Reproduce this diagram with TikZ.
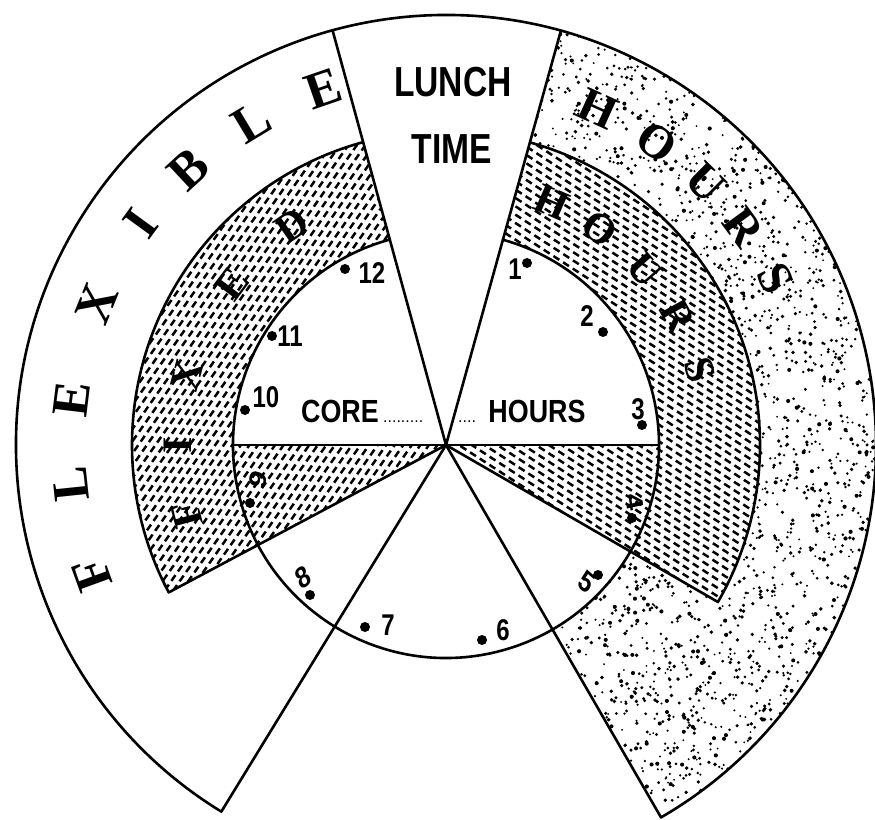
\documentclass[tikz,border=0pt]{standalone}
\usepackage{fontspec}
\setmainfont{Liberation Serif}
\newfontfamily\lsans{Liberation Sans}
\begin{document}
\begin{tikzpicture}[x=1pt,y=1pt,
  outline/.style={line width=2.6pt, line join=round, line cap=round},
  hatchline/.style={line width=2.5pt, dash pattern=on 7pt off 4.5pt},
  bigl/.style={font=\fontsize{52}{52}\selectfont\bfseries, inner sep=0pt},
  midl/.style={font=\fontsize{42}{42}\selectfont\bfseries, inner sep=0pt},
  lunchtxt/.style={font=\lsans\bfseries\fontsize{42}{42}\selectfont, xscale=0.8, inner sep=0pt},
  coretxt/.style={font=\lsans\bfseries\fontsize{32}{32}\selectfont, xscale=0.84, inner sep=0pt, anchor=base},
  leader/.style={font=\lsans\fontsize{16}{16}\selectfont, inner sep=0pt, anchor=base west},
  num/.style={font=\lsans\bfseries\fontsize{30}{30}\selectfont, xscale=0.8, inner sep=0pt},
  numdot/.style={circle, fill=black, inner sep=0pt, minimum size=10pt},
]
\fill[white] (-446,-374) rectangle (429,445);
\useasboundingbox (-446,-374) rectangle (429,445);
\coordinate (C) at (0,0);

% stippled region
\begin{scope}
\clip (-60:213) -- (-60:430) arc[start angle=-60,end angle=74.5,radius=430] -- (74.5:314) arc[start angle=74.5,end angle=-30,radius=314] -- (-30:213) arc[start angle=-30,end angle=-60,radius=213] -- cycle;
\pgfmathsetseed{4242}
\foreach \i in {1,...,2100}{
  \pgfmathsetmacro\ang{-60+135*rnd}
  \pgfmathsetmacro\rad{100*sqrt(4.5369+13.9531*rnd)}
  \pgfmathsetmacro\dr{1.0+1.1*rnd}
  \fill (\ang:\rad) circle[radius=\dr];
}
\end{scope}

% hatched left
\begin{scope}
\clip (C) -- (208:314) arc[start angle=208,end angle=105.3,radius=314] -- (105.3:213) arc[start angle=105.3,end angle=180,radius=213] -- cycle;
\begin{scope}[rotate=55]
\foreach \k in {-48,...,48}{
  \pgfmathsetmacro\ph{mod(\k*4.3+1000,11.5)}
  \draw[hatchline, dash phase=\ph pt] (-340,\k*7) -- (340,\k*7);
}
\end{scope}
\end{scope}

% hatched right
\begin{scope}
\clip (C) -- (-30:314) arc[start angle=-30,end angle=74.5,radius=314] -- (74.5:213) arc[start angle=74.5,end angle=0,radius=213] -- cycle;
\begin{scope}[rotate=-33]
\foreach \k in {-48,...,48}{
  \pgfmathsetmacro\ph{mod(\k*4.3+1000,11.5)}
  \draw[hatchline, dash phase=\ph pt] (-340,\k*7) -- (340,\k*7);
}
\end{scope}
\end{scope}

% outlines
\coordinate (outL) at (238.5:430);
\coordinate (outR) at (-60:430);
\coordinate (lunchL) at (105.3:430);
\coordinate (lunchR) at (74.5:430);
\coordinate (hL) at (208:314);
\coordinate (hR) at (-30:314);
\coordinate (h9) at (180:213);
\coordinate (h3) at (0:213);
\draw[outline] (C) -- (outL) arc[start angle=238.5,end angle=-60,radius=430] -- (C);
\draw[outline] (C) -- (lunchL);
\draw[outline] (C) -- (lunchR);
\draw[outline] (C) -- (hL) arc[start angle=208,end angle=105.3,radius=314];
\draw[outline] (C) -- (hR) arc[start angle=-30,end angle=74.5,radius=314];
\draw[outline] (h9) -- (h3);
\draw[outline] (105.3:213) arc[start angle=105.3,end angle=434.5,radius=213];

% lunch
\node[lunchtxt] (lunch) at (7,363) {LUNCH};
\node[lunchtxt] (time) at (6,296) {TIME};

% core hours
\node[coretxt] (core) at (-106,23) {CORE};
\node[leader] (dotsL) at (-63,23) {.........};
\node[leader] (dotsR) at (12,23) {....};
\node[coretxt] (hours) at (91,23) {HOURS};

% clock numbers
\node[numdot] (d12) at (-101,176) {}; \node[num] (n12) at (-74,172) {12};
\node[numdot] (d11) at (-174,109) {}; \node[num] (n11) at (-156,109) {11};
\node[numdot] (d10) at (-201,35) {};  \node[num] (n10) at (-180,48) {10};
\node[numdot] (d9) at (-196,-58) {};  \node[num, rotate=75] (n9) at (-188,-35) {9};
\node[numdot] (d8) at (-136,-150) {}; \node[num, rotate=30] (n8) at (-143,-132) {8};
\node[numdot] (d7) at (-81,-182) {};  \node[num] (n7) at (-58,-180) {7};
\node[numdot] (d6) at (36,-195) {};   \node[num] (n6) at (57,-185) {6};
\node[numdot] (d5) at (152,-130) {};  \node[num, rotate=-35] (n5) at (141,-137) {5};
\node[numdot] (d4) at (186,-73) {};   \node[num, rotate=-80] (n4) at (189,-57) {4};
\node[numdot] (d3) at (196,20) {};    \node[num] (n3) at (192,36) {3};
\node[numdot] (d2) at (157,113) {};   \node[num] (n2) at (141,129) {2};
\node[numdot] (d1) at (81,182) {};    \node[num] (n1) at (69,176) {1};

% big letters
\foreach \l/\a [count=\i] in {F/200,L/186,E/173,X/158,I/144,B/133,L/121,E/109}
  \node[bigl, rotate=\a-90] (flex\i) at (\a:377) {\l};
\foreach \l/\a [count=\i] in {H/65.6,O/55.2,U/45.3,R/36.2,S/26.8}
  \node[bigl, font=\fontsize{48}{48}\selectfont\bfseries, rotate=\a-90] (ohours\i) at (\a:369) {\l};
\foreach \l/\a [count=\i] in {F/195,I/180,X/165,E/143,D/125}
  \node[midl, rotate=\a-90] (fixed\i) at (\a:268) {\l};
\foreach \l/\a [count=\i] in {H/66.5,O/54.5,U/41.5,R/29,S/16.5}
  \node[midl, rotate=\a-90] (ihours\i) at (\a:265) {\l};
\end{tikzpicture}
\end{document}
